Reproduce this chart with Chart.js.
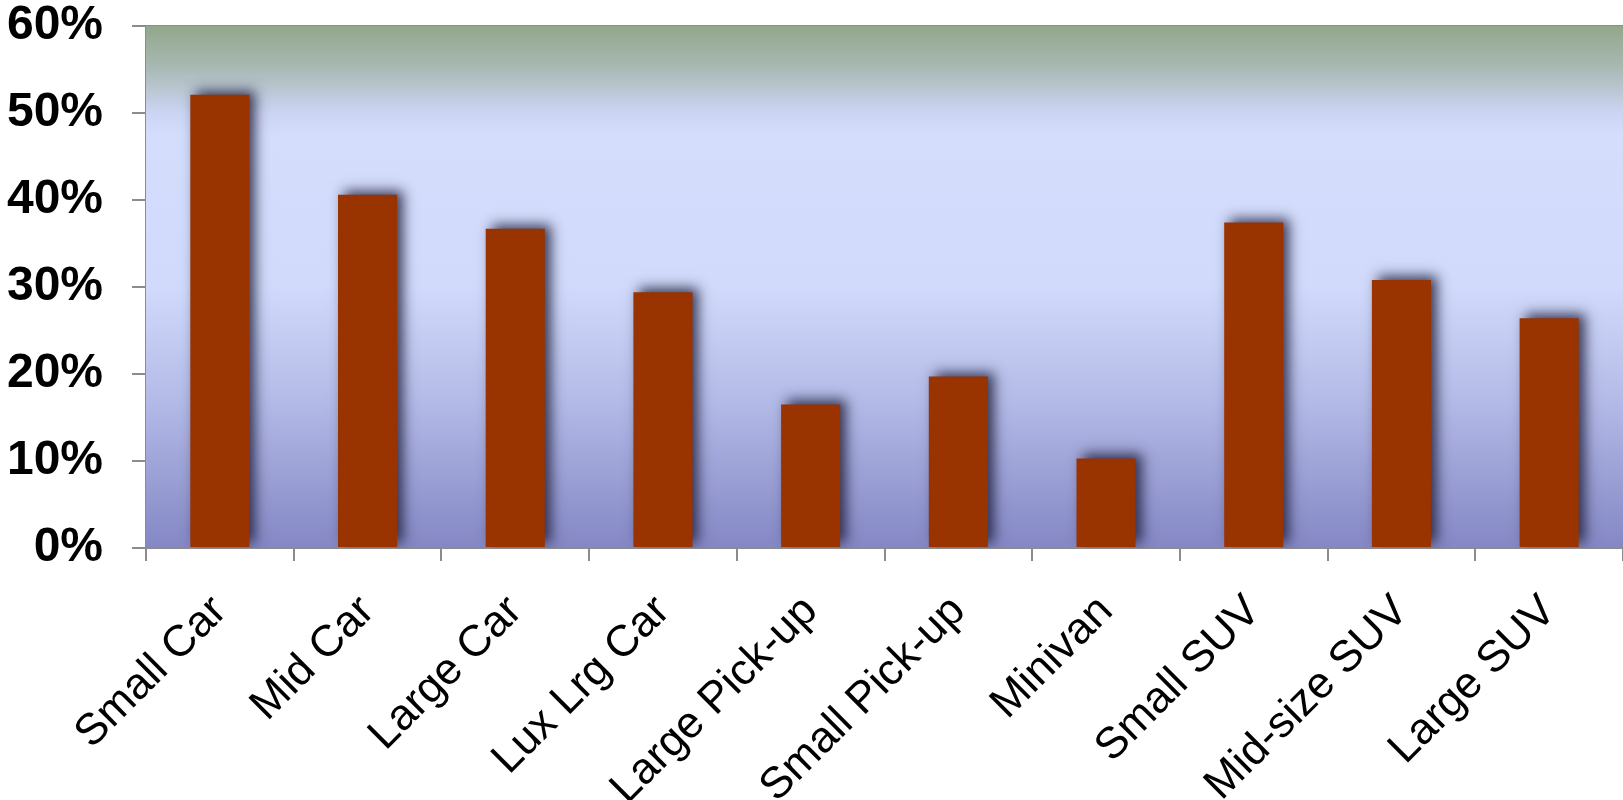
<!DOCTYPE html>
<html>
<head>
<meta charset="utf-8">
<script src="https://cdn.jsdelivr.net/npm/chart.js@4.4.1/dist/chart.umd.min.js"></script>
<style>
  html, body { margin: 0; padding: 0; background: #ffffff; }
  #wrap { width: 1623px; height: 800px; }
</style>
</head>
<body>
<div id="wrap"><canvas id="chart" width="1623" height="800"></canvas></div>
<script>
// Vehicle segments and their shares (percent)
const categories = ['Small Car', 'Mid Car', 'Large Car', 'Lux Lrg Car', 'Large Pick-up',
                    'Small Pick-up', 'Minivan', 'Small SUV', 'Mid-size SUV', 'Large SUV'];
const shares = [52.1, 40.6, 36.7, 29.4, 16.5, 19.7, 10.3, 37.4, 30.8, 26.4];
const yTicks = [0, 10, 20, 30, 40, 50, 60];

const FONT = '"Liberation Sans", Arial, Helvetica, sans-serif';

// Plot-area backdrop: green haze at the top, pale blue band, deeper blue toward the base
const backdrop = {
  id: 'backdrop',
  beforeDatasetsDraw(chart) {
    const { ctx, chartArea: a } = chart;
    const g = ctx.createLinearGradient(0, a.top, 0, a.bottom);
    g.addColorStop(0.00, '#92a78a');
    g.addColorStop(0.08, '#a9b9b4');
    g.addColorStop(0.165, '#cbd4f2');
    g.addColorStop(0.21, '#d4ddfc');
    g.addColorStop(0.50, '#d1dafb');
    g.addColorStop(0.72, '#b3bae7');
    g.addColorStop(1.00, '#8487c4');
    ctx.save();
    ctx.fillStyle = g;
    ctx.fillRect(a.left, a.top, a.right - a.left, a.bottom - a.top);
    ctx.restore();
  }
};

// Soft drop shadow behind the bars
const barShadow = {
  id: 'barShadow',
  beforeDatasetsDraw(chart) {
    const ctx = chart.ctx;
    ctx.save();
    ctx.shadowColor = 'rgba(30, 32, 60, 0.85)';
    ctx.shadowBlur = 12;
    ctx.shadowOffsetX = 6;
    ctx.shadowOffsetY = -4;
  },
  afterDatasetsDraw(chart) {
    chart.ctx.restore();
  }
};

new Chart(document.getElementById('chart'), {
  type: 'bar',
  data: {
    labels: categories,
    datasets: [{
      data: shares,
      backgroundColor: '#993300',
      borderWidth: 0,
      categoryPercentage: 1.0,
      barPercentage: 0.4
    }]
  },
  plugins: [backdrop, barShadow],
  options: {
    responsive: false,
    animation: false,
    events: [],
    layout: { padding: 0 },
    plugins: { legend: { display: false }, tooltip: { enabled: false } },
    scales: {
      x: {
        grid: {
          offset: true,
          drawOnChartArea: false,
          drawTicks: true,
          tickLength: 13,
          color: '#8c8c8c',
          lineWidth: 2
        },
        border: { display: true, color: '#8c8c8c', width: 2 },
        ticks: {
          autoSkip: false,
          minRotation: 45,
          maxRotation: 45,
          padding: 30,
          color: '#000000',
          font: { family: FONT, size: 44, lineHeight: 0.85 }
        },
        afterFit(scale) {
          scale.height = 252;
          scale.paddingLeft = 0;
          scale.paddingRight = 0;
        }
      },
      y: {
        min: 0,
        max: 60,
        afterBuildTicks(scale) {
          scale.ticks = yTicks.map(v => ({ value: v }));
        },
        grid: {
          color: '#8c8c8c',
          lineWidth: 2,
          tickLength: 14
        },
        border: { display: true, color: '#8c8c8c', width: 2 },
        ticks: {
          padding: 29,
          color: '#000000',
          font: { family: FONT, size: 48, weight: 'bold' },
          callback: v => v + '%'
        },
        afterFit(scale) {
          scale.width = 146;
          scale.paddingTop = 26;
          scale.paddingBottom = 0;
        }
      }
    }
  }
});
</script>
</body>
</html>
